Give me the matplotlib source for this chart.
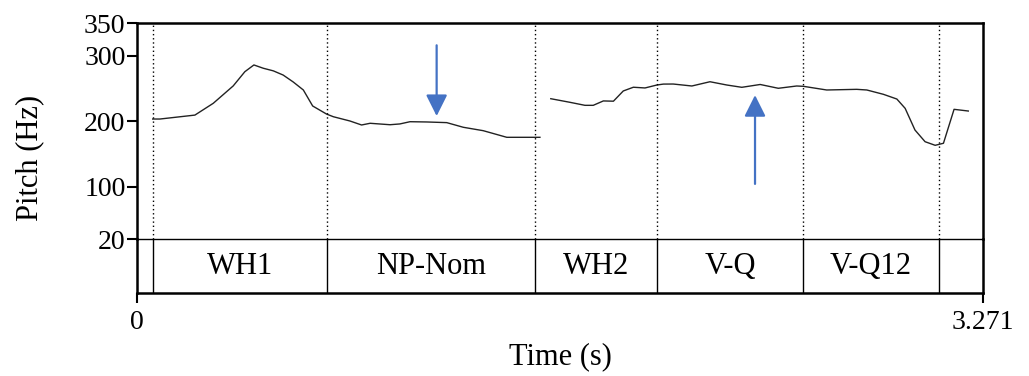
import matplotlib
matplotlib.use("Agg")
import matplotlib.pyplot as plt

# Pitch contour (time in s, F0 in Hz), split where voicing breaks
seg1_t = [0.062, 0.090, 0.225, 0.296, 0.373, 0.418, 0.453, 0.489, 0.528, 0.566,
          0.605, 0.644, 0.680, 0.734, 0.760, 0.824, 0.869, 0.902, 0.979, 1.017,
          1.056, 1.121, 1.198, 1.262, 1.339, 1.430, 1.558]
seg1_hz = [203.5, 203.5, 209.5, 227.5, 254.0, 275.7, 286.0, 281.0, 277.0, 270.6,
           260.0, 247.8, 223.4, 211.0, 207.0, 200.5, 194.4, 197.0, 194.8, 196.0,
           199.4, 199.0, 198.0, 190.9, 185.7, 175.6, 175.6]

seg2_t = [1.600, 1.674, 1.732, 1.764, 1.803, 1.842, 1.880, 1.919, 1.964, 2.010,
          2.035, 2.073, 2.145, 2.215, 2.280, 2.338, 2.409, 2.479, 2.550, 2.576,
          2.666, 2.782, 2.821, 2.885, 2.937, 2.969, 3.007, 3.046, 3.085, 3.117,
          3.158, 3.213]
seg2_hz = [234.5, 229.0, 224.4, 224.4, 231.1, 230.7, 246.3, 252.0, 250.9, 255.4,
           256.8, 256.9, 253.9, 260.4, 255.4, 251.9, 256.2, 250.4, 253.9, 253.4,
           247.8, 248.8, 247.8, 241.2, 234.0, 219.8, 186.7, 168.9, 163.4, 166.5,
           218.3, 215.7]

# TextGrid tier: interval boundaries and labels
boundaries = [0.062, 0.734, 1.540, 2.010, 2.576, 3.099]
labels = ["WH1", "NP-Nom", "WH2", "V-Q", "V-Q12"]

t_end = 3.271
y_ticks = [20, 100, 200, 300, 350]
x_ticks = [0, t_end]
x_tick_labels = ["0", "3.271"]

# Arrows: (time, tail Hz, tip Hz)
arrow_down = (1.159, 316.0, 208.0)
arrow_up = (2.389, 104.5, 240.0)

plt.rcParams["font.family"] = ["Liberation Serif", "DejaVu Serif"]
BLUE = "#4472C4"

fig = plt.figure(figsize=(10.29, 3.76), dpi=100)
left, right = 0.1328, 0.9556
top, mid, bottom = 0.9388, 0.3636, 0.2207
ax = fig.add_axes([left, mid, right - left, top - mid])
tier = fig.add_axes([left, bottom, right - left, mid - bottom], sharex=ax)
tier.patch.set_alpha(0)

frame_lw = 1.8
thin_lw = 1.0

# Pitch panel
ax.plot(seg1_t, seg1_hz, color="#222222", lw=1.0)
ax.plot(seg2_t, seg2_hz, color="#222222", lw=1.0)
for b in boundaries:
    ax.axvline(b, color="black", lw=1.0, linestyle=(0, (1, 2)))
ax.set_xlim(0, t_end)
ax.set_ylim(20, 350)
ax.set_yticks(y_ticks)
ax.set_yticklabels([str(v) for v in y_ticks])
ax.tick_params(axis="y", direction="out", length=7, width=1.5, labelsize=20, pad=1)
ax.tick_params(axis="x", bottom=False, labelbottom=False)
for side in ("top", "left", "right"):
    ax.spines[side].set_linewidth(frame_lw)
ax.spines["bottom"].set_visible(False)

for (t, y0, y1) in (arrow_down, arrow_up):
    ax.annotate("", xy=(t, y1), xytext=(t, y0),
                arrowprops=dict(arrowstyle="-|>,head_length=1.0,head_width=0.5",
                                color=BLUE, lw=1.6, mutation_scale=13,
                                shrinkA=0, shrinkB=0))

# Tier panel
tier.set_ylim(0, 1)
tier.set_yticks([])
for b in boundaries:
    tier.axvline(b, color="black", lw=thin_lw)
edges = boundaries
for i, lab in enumerate(labels):
    tier.text((edges[i] + edges[i + 1]) / 2, 0.5, lab, ha="center", va="center",
              fontsize=22)
tier.set_xticks(x_ticks)
tier.set_xticklabels(x_tick_labels)
tier.tick_params(axis="x", direction="out", length=7, width=1.5, labelsize=20, pad=5)
for side in ("bottom", "left", "right"):
    tier.spines[side].set_linewidth(frame_lw)
tier.spines["top"].set_linewidth(thin_lw)

fig.text(0.029, 1 - 158 / 376, "Pitch (Hz)", rotation=90, ha="center", va="center",
         fontsize=22)
fig.text((left + right) / 2, 1 - 357 / 376, "Time (s)", ha="center", va="center",
         fontsize=22)

fig.savefig("out.png", dpi=100)
